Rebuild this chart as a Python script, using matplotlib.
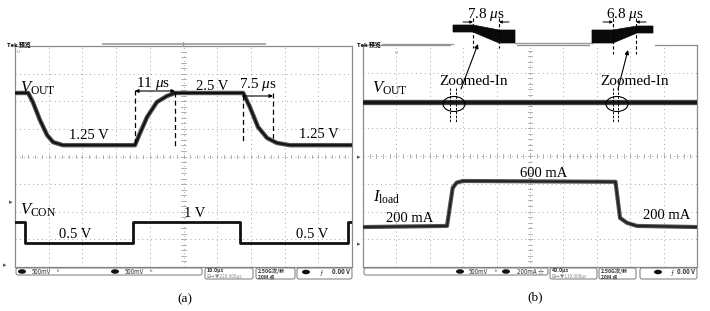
import matplotlib
matplotlib.use("Agg")
import matplotlib.pyplot as plt
from matplotlib.patches import Polygon, Ellipse, FancyBboxPatch, Rectangle

plt.rcParams['mathtext.fontset'] = 'custom'
plt.rcParams['mathtext.rm'] = 'Liberation Serif'
plt.rcParams['mathtext.it'] = 'Liberation Serif:italic'
plt.rcParams['font.family'] = ['Liberation Serif', 'DejaVu Sans']
SMALL = ['Noto Sans CJK SC', 'DejaVu Sans']

# ---------------- data ----------------
# Panel (a): time in us (10 us/div), level in screen divisions (-4..4)
a_vout_t = [0, 3.9, 5.3, 7.4, 9.5, 11.3, 14.2, 35.6, 37.1, 39.2, 42.1, 45.1, 47.5,
            67.7, 69.7, 72.1, 74.8, 77.7, 81.6, 100]
a_vout_y = [2.30, 2.30, 1.97, 1.32, 0.78, 0.52, 0.41, 0.41, 0.85, 1.43, 1.97, 2.19, 2.30,
            2.30, 1.79, 1.07, 0.67, 0.49, 0.41, 0.41]
a_vcon_t = [0, 3.0, 35.0, 66.8, 98.8, 100]
a_vcon_y = [-2.38, -3.14, -2.38, -3.14, -2.38, -2.38]

# Panel (b): time in us (40 us/div), level in screen divisions
b_vout_t = [0, 400]
b_vout_y = [1.95, 1.95]
b_iload_t = [0, 100.6, 107.4, 112.2, 119.8, 302.4, 307.8, 316.2, 328.1, 400]
b_iload_y = [-2.56, -2.52, -1.15, -0.96, -0.90, -0.93, -2.23, -2.41, -2.52, -2.56]

a_labels = ['1.25 V', '2.5 V', '1.25 V', '0.5 V', '1 V', '0.5 V']
b_labels = ['200 mA', '600 mA', '200 mA']

W, H = 710, 311
fig = plt.figure(figsize=(W / 100, H / 100), dpi=100)


def screen(l, r, t, b, tmax):
    ax = fig.add_axes([l / W, (H - b) / H, (r - l) / W, (b - t) / H])
    ax.set_xlim(0, tmax)
    ax.set_ylim(-4, 4)
    ax.set_xticks([]); ax.set_yticks([])
    for s in ax.spines.values():
        s.set_color('#8c8c8c'); s.set_linewidth(0.9)
    div = tmax / 10
    for k in range(1, 10):
        ax.axvline(k * div, color='#a5a5a5', lw=0.7, ls=(0, (1, 3.5)), zorder=1)
    for k in range(-3, 4):
        ax.axhline(k, color='#a5a5a5', lw=0.7, ls=(0, (1, 3.5)), zorder=1)
    # centre cross tick marks
    for k in range(1, 50):
        x = k * div / 5
        ax.plot([x, x], [-0.07, 0.07], color='#a5a5a5', lw=0.6, zorder=1)
    for k in range(-19, 20):
        y = k / 5
        ax.plot([5 * div - div * 0.07, 5 * div + div * 0.07], [y, y], color='#a5a5a5', lw=0.6, zorder=1)
    return ax


axA = screen(15, 352, 46, 267, 100)
axB = screen(363, 697, 45, 267, 400)

axA.plot(a_vout_t, a_vout_y, color='#555555', lw=3.2, solid_joinstyle='round', zorder=3)
axA.plot(a_vout_t, a_vout_y, color='#111111', lw=1.5, solid_joinstyle='round', zorder=4)
axA.plot(a_vcon_t, a_vcon_y, color='#111111', lw=2.0, drawstyle='steps-post', zorder=4)

axB.plot(b_vout_t, b_vout_y, color='#444444', lw=3.8, zorder=3)
axB.plot(b_vout_t, b_vout_y, color='#111111', lw=1.8, zorder=4)
axB.plot(b_iload_t, b_iload_y, color='#555555', lw=3.0, solid_joinstyle='round', zorder=3)
axB.plot(b_iload_t, b_iload_y, color='#222222', lw=1.4, solid_joinstyle='round', zorder=4)

# ---------------- overlay (pixel coordinates) ----------------
ov = fig.add_axes([0, 0, 1, 1], zorder=10)
ov.set_xlim(0, W); ov.set_ylim(H, 0); ov.axis('off'); ov.patch.set_alpha(0)

# record bars & header
ov.plot([103, 265], [44, 44], color='#999999', lw=1.2)
ov.plot([183, 183], [42, 46], color='#999999', lw=0.8)
ov.plot([382, 453], [44, 44], color='#999999', lw=1.0)
ov.plot([515, 592], [43, 43], color='#999999', lw=1.0)
ov.text(7, 44.5, 'Tek 预览', fontsize=4.2, fontweight='bold', family=SMALL, va='center')
ov.text(357, 44.5, 'Tek 预览', fontsize=4.2, fontweight='bold', family=SMALL, va='center')
ov.text(17, 52, 'U', fontsize=3, color='#777777', family=SMALL, va='center')
ov.text(395, 52.5, 'U', fontsize=3, color='#777777', family=SMALL, va='center')
for (x, y) in [(9, 202), (3, 265), (357, 157), (357, 244)]:
    ov.text(x, y, '▸', fontsize=5, color='#555555', family=SMALL, va='center')

serif = dict(family=['Liberation Serif', 'DejaVu Sans'])
# panel (a) annotations
ov.text(20, 93, r'$V_{\mathrm{OUT}}$', fontsize=12, va='baseline')
ov.text(20, 215, r'$V_{\mathrm{CON}}$', fontsize=12, va='baseline')
ov.text(153, 87, r'11 $\mu$s', fontsize=11, ha='center', va='baseline')
ov.text(258, 88, r'7.5 $\mu$s', fontsize=11, ha='center', va='baseline')
a_pos = [(89, 139), (212, 90), (319, 138), (75, 238), (195, 217), (312, 238)]
for lab, (x, y) in zip(a_labels, a_pos):
    ov.text(x, y, lab, fontsize=10.5, ha='center', va='baseline', **serif)
ov.annotate('', xy=(175, 91), xytext=(135, 91),
            arrowprops=dict(arrowstyle='<|-|>', color='k', lw=0.8, mutation_scale=5, shrinkA=0, shrinkB=0))
ov.annotate('', xy=(273, 96), xytext=(243, 96),
            arrowprops=dict(arrowstyle='-|>', color='k', lw=0.8, mutation_scale=5, shrinkA=0, shrinkB=0))
for (x, y0, y1) in [(135, 90, 145), (175, 92, 146), (243, 95, 142), (273, 93, 138)]:
    ov.plot([x, x], [y0, y1], color='k', lw=0.9, ls=(0, (4, 2.5)))
ov.text(185, 299, '(a)', fontsize=9.5, ha='center', va='center', **serif)

# panel (b) annotations
ov.text(372, 93, r'$V_{\mathrm{OUT}}$', fontsize=12, va='baseline')
ov.text(373, 202, r'$I_{\mathrm{load}}$', fontsize=12, va='baseline')
b_pos = [(410, 222), (544, 177), (667, 219)]
for lab, (x, y) in zip(b_labels, b_pos):
    ov.text(x, y, lab, fontsize=10.5, ha='center', va='baseline', **serif)
ov.text(474, 85, 'Zoomed-In', fontsize=11, ha='center', va='baseline', **serif)
ov.text(635, 85, 'Zoomed-In', fontsize=11, ha='center', va='baseline', **serif)
ov.text(535, 297, '(b)', fontsize=9.5, ha='center', va='center', **serif)

# zoomed insets
for (x0, x1) in [(451, 517), (590, 655)]:
    ov.add_patch(Rectangle((x0, 0), x1 - x0, 47.5, facecolor='white', edgecolor='none', zorder=1))
ov.add_patch(Polygon([(453, 25), (473, 25), (499, 30), (515, 30), (515, 43), (499, 43), (473, 32), (453, 32)],
                     closed=True, facecolor='#0a0a0a', edgecolor='#0a0a0a', lw=0.5, zorder=2))
ov.add_patch(Polygon([(592, 30), (613, 30), (637, 26), (653, 26), (653, 33), (637, 33), (613, 43), (592, 43)],
                     closed=True, facecolor='#0a0a0a', edgecolor='#0a0a0a', lw=0.5, zorder=2))
for (x, y0, y1) in [(473, 18, 48), (499, 18, 48), (613, 18, 54), (636, 18, 54)]:
    ov.plot([x, x], [y0, y1], color='k', lw=0.8, ls=(0, (3, 2)), zorder=3)
ov.text(486, 18, r'7.8 $\mu$s', fontsize=11, ha='center', va='baseline', zorder=3)
ov.text(625, 18, r'6.8 $\mu$s', fontsize=11, ha='center', va='baseline', zorder=3)
for (xa, xb) in [(463, 473), (509, 499), (603, 613), (646, 636)]:
    ov.annotate('', xy=(xb, 22), xytext=(xa, 22), zorder=3,
                arrowprops=dict(arrowstyle='-|>', color='k', lw=0.7, mutation_scale=4, shrinkA=0, shrinkB=0))
ov.annotate('', xy=(478, 44), xytext=(461, 89),
            arrowprops=dict(arrowstyle='-|>', color='k', lw=0.8, mutation_scale=6, shrinkA=0, shrinkB=0))
ov.annotate('', xy=(628, 50), xytext=(618, 89),
            arrowprops=dict(arrowstyle='-|>', color='k', lw=0.8, mutation_scale=6, shrinkA=0, shrinkB=0))
for cx in [454, 617]:
    ov.add_patch(Ellipse((cx, 104), 22, 15, facecolor='none', edgecolor='k', lw=0.8))
for x in [449.5, 455.5, 613, 618]:
    ov.plot([x, x], [88, 122], color='k', lw=0.7, ls=(0, (2.5, 1.5)))

# info bars
def box(x, y, w, h):
    ov.add_patch(FancyBboxPatch((x, y), w, h, boxstyle='round,pad=0,rounding_size=2',
                                facecolor='white', edgecolor='#777777', lw=0.7))

def dot(x, y):
    ov.add_patch(Ellipse((x, y), 8, 4.5, facecolor='#111111', edgecolor='none'))

def tiny(x, y, s, size=4.4, **kw):
    kw.setdefault('color', '#333333')
    ov.text(x, y, s, fontsize=size, family=SMALL, va='center', **kw)

box(16, 268, 186, 7); box(205, 268, 48, 11); box(256, 268, 39, 11); box(297, 268, 55, 11)
dot(22, 271.5); tiny(32, 271.5, '500mV'); tiny(57, 271.5, 'ʰ')
dot(115, 271.5); tiny(125, 271.5, '500mV'); tiny(150, 271.5, 'ʰ')
tiny(207, 270.8, '10.0μs', size=3.8, fontweight='bold'); tiny(207, 276.8, '⊞→▼220.000μs', size=3.4, color='#888888')
tiny(258, 270.8, '2.50G次/秒', size=3.8, fontweight='bold'); tiny(258, 276.8, '20M 点', size=3.6, fontweight='bold')
dot(306, 272); tiny(320, 272, 'ƒ'); tiny(350, 272, '0.00 V', ha='right', fontweight='bold')

box(364, 268, 184, 7); box(550, 268, 47, 11); box(599, 268, 37, 11); box(640, 268, 57, 11)
dot(460, 271.5); tiny(469, 271.5, '500mV'); tiny(495, 271.5, 'ʰ')
dot(506, 271.5); tiny(517, 271.5, '200mA ☆')
tiny(552, 270.8, '40.0μs', size=3.8, fontweight='bold'); tiny(552, 276.8, '⊞→▼110.000μs', size=3.4, color='#888888')
tiny(601, 270.8, '2.50G次/秒', size=3.8, fontweight='bold'); tiny(601, 276.8, '20M 点', size=3.6, fontweight='bold')
dot(658, 272); tiny(671, 272, 'ƒ'); tiny(695, 272, '0.00 V', ha='right', fontweight='bold')

fig.savefig('out.png', dpi=100, facecolor='white')
